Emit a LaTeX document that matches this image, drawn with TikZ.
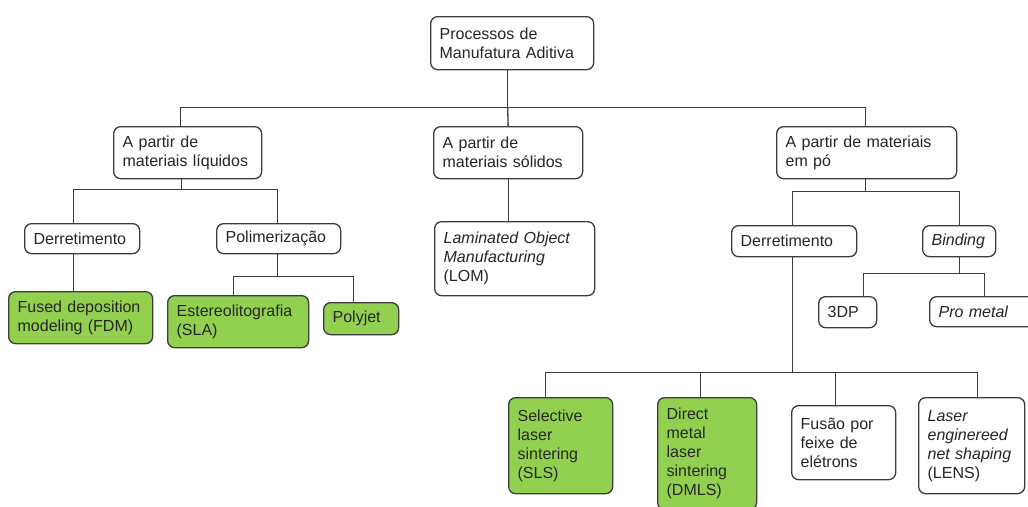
\documentclass[tikz,border=0pt]{standalone}
\usepackage{fontspec}
\setmainfont{Liberation Sans}
\usepackage{tikz}
\usetikzlibrary{calc}
\definecolor{linha}{HTML}{3C3C3C}
\definecolor{verdeclaro}{HTML}{92D050}
\definecolor{texto}{HTML}{262626}
\hyphenpenalty=10000
\exhyphenpenalty=10000

\begin{document}
\begin{tikzpicture}[x=1pt,y=-1pt,
  caixa/.style={draw=linha, line width=1.3pt, rounded corners=7pt, fill=white,
    anchor=north west, inner xsep=9pt, inner ysep=0pt, align=left,
    text=texto, font=\fontsize{16}{19}\selectfont},
  verde/.style={caixa, fill=verdeclaro},
  liga/.style={draw=linha, line width=1.3pt}]
\fill[white] (0,0) rectangle (1028,506);
\useasboundingbox (0,0) rectangle (1028,506);

\node[caixa, text width=145pt, minimum height=53pt] (root) at (430,16) {Processos de\\Manufatura Aditiva};

\node[caixa, text width=130pt, minimum height=52pt] (l1a) at (113,126) {A partir de\\materiais líquidos};
\node[caixa, text width=131pt, minimum height=52pt] (l1b) at (433,126) {A partir de\\materiais sólidos};
\node[caixa, text width=162pt, minimum height=52pt] (l1c) at (776,126) {A partir de materiais\\em pó};

\node[caixa, text width=97pt, minimum height=30pt] (derr1) at (24,223) {Derretimento};
\node[caixa, text width=106pt, minimum height=30pt] (polim) at (216,223) {Polimerização};
\node[verde, text width=126pt, minimum height=52pt] (fdm) at (8,291) {Fused deposition\\modeling (FDM)};
\node[verde, text width=123pt, minimum height=52pt] (sla) at (167,295) {Estereolitografia\\(SLA)};
\node[verde, text width=57pt, minimum height=32pt] (polyjet) at (323,302) {Polyjet};

\node[caixa, text width=142pt, minimum height=74pt] (lom) at (434,221) {\textit{Laminated Object}\\\textit{Manufacturing}\\(LOM)};

\node[caixa, text width=107pt, minimum height=31pt] (derr2) at (731,225) {Derretimento};
\node[caixa, text width=55pt, minimum height=31pt] (binding) at (922,225) {\textit{Binding}};
\node[caixa, text width=40pt, minimum height=31pt] (tdp) at (818,296) {3DP};
\node[caixa, text width=92pt, minimum height=30pt] (prometal) at (929,296) {\textit{Pro metal}};

\node[verde, text width=86pt, minimum height=96pt] (sls) at (508,397) {Selective\\laser\\sintering\\(SLS)};
\node[verde, text width=81pt, minimum height=112pt] (dmls) at (657,397) {Direct\\metal\\laser\\sintering\\(DMLS)};
\node[caixa, text width=86pt, minimum height=74pt] (fusao) at (791,405) {Fusão por\\feixe de\\elétrons};
\node[caixa, text width=88pt, minimum height=96pt] (lens) at (918,397) {\textit{Laser}\\\textit{enginereed}\\\textit{net shaping}\\(LENS)};

\draw[liga] ([xshift=-4.5pt]root.south) -- ++(0,37) coordinate (t1);
\draw[liga] ([xshift=-7pt]l1a.north) |- (t1) -| ([xshift=-1pt]l1c.north);
\draw[liga] (t1) -- (l1b.north);

\draw[liga] ([xshift=-6pt]l1a.south) -- ++(0,10) coordinate (t2);
\draw[liga] ([xshift=-8.5pt]derr1.north) |- (t2) -| ([xshift=-1pt]polim.north);
\draw[liga] ([xshift=-8.5pt]derr1.south) -- ([xshift=-7pt]fdm.north);
\draw[liga] ([xshift=-1pt]polim.south) -- ++(0,22) coordinate (t3);
\draw[liga] ([xshift=-4.5pt]sla.north) |- (t3) -| ([xshift=-7.5pt]polyjet.north);

\draw[liga] (l1b.south) -- ([xshift=-6.5pt]lom.north);

\draw[liga] ([xshift=-1pt]l1c.south) -- ++(0,12) coordinate (t4);
\draw[liga] ([xshift=-1.5pt]derr2.north) |- (t4) -| ([xshift=0.5pt]binding.north);
\draw[liga] ([xshift=0.5pt]binding.south) -- ++(0,16) coordinate (t5);
\draw[liga] ([xshift=16pt]tdp.north) |- (t5) -| (prometal.north);

\draw[liga] ([xshift=-1.5pt]derr2.south) -- ++(0,115) coordinate (t6);
\foreach \n/\dx in {sls/-15,dmls/-6.5,fusao/-8,lens/6}
  \draw[liga] ([xshift=\dx pt]\n.north) |- (t6);
\end{tikzpicture}
\end{document}
